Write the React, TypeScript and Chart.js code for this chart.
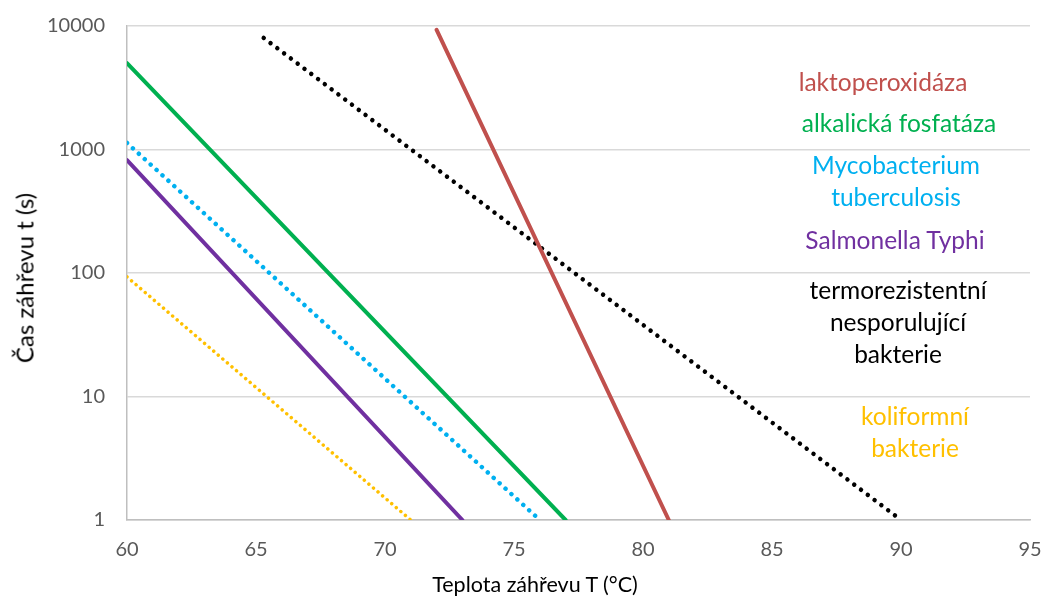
import React, { useEffect, useRef } from "react";
import { Chart, registerables } from "chart.js";

Chart.register(...registerables);

const xTicks = [60, 65, 70, 75, 80, 85, 90, 95];
const yTicks = [1, 10, 100, 1000, 10000];

const seriesNames = [
  "laktoperoxidáza",
  "alkalická fosfatáza",
  "Mycobacterium tuberculosis",
  "Salmonella Typhi",
  "termorezistentní nesporulující bakterie",
  "koliformní bakterie",
];
const seriesColors = ["#C0504D", "#00B050", "#00B0F0", "#7030A0", "#000000", "#FFC000"];

const laktoperoxidazaT = [72, 81];
const laktoperoxidazaTime = [9300, 1];
const fosfatazaT = [60, 77];
const fosfatazaTime = [5000, 1];
const mycobacteriumT = [60, 76];
const mycobacteriumTime = [1130, 1];
const salmonellaT = [60, 73];
const salmonellaTime = [820, 1];
const termorezT = [65.3, 90];
const termorezTime = [8000, 1];
const koliformT = [60, 71];
const koliformTime = [93, 1];

const labelLines = [
  { lines: ["laktoperoxidáza"], cx: 883, cy: 82, color: seriesColors[0] },
  { lines: ["alkalická fosfatáza"], cx: 899, cy: 123, color: seriesColors[1] },
  { lines: ["Mycobacterium", "tuberculosis"], cx: 896, cy: 181, color: seriesColors[2] },
  { lines: ["Salmonella Typhi"], cx: 895, cy: 240, color: seriesColors[3] },
  { lines: ["termorezistentní", "nesporulující", "bakterie"], cx: 898, cy: 322, color: seriesColors[4] },
  { lines: ["koliformní", "bakterie"], cx: 915, cy: 432, color: seriesColors[5] },
];

const pts = (xs: number[], ys: number[]) => xs.map((x, i) => ({ x, y: ys[i] }));

const FONT = "Lato, 'Open Sans', sans-serif";

export default function App() {
  const ref = useRef<HTMLCanvasElement | null>(null);

  useEffect(() => {
    document.body.style.margin = "0";
    const ctx = ref.current!.getContext("2d")!;
    const solid = (label: string, color: string, data: any) => ({
      label,
      data,
      borderColor: color,
      backgroundColor: color,
      borderWidth: 4,
      pointRadius: 0,
      borderCapStyle: "round" as const,
      fill: false,
    });
    const dotted = (label: string, color: string, data: any, w: number, gap: number) => ({
      ...solid(label, color, data),
      borderWidth: w,
      borderDash: [0.01, gap],
    });
    const chart = new Chart(ctx, {
      type: "line",
      data: {
        datasets: [
          solid(seriesNames[0], seriesColors[0], pts(laktoperoxidazaT, laktoperoxidazaTime)),
          solid(seriesNames[1], seriesColors[1], pts(fosfatazaT, fosfatazaTime)),
          dotted(seriesNames[2], seriesColors[2], pts(mycobacteriumT, mycobacteriumTime), 4.5, 8),
          solid(seriesNames[3], seriesColors[3], pts(salmonellaT, salmonellaTime)),
          dotted(seriesNames[4], seriesColors[4], pts(termorezT, termorezTime), 4.5, 8.5),
          dotted(seriesNames[5], seriesColors[5], pts(koliformT, koliformTime), 3.5, 6),
        ],
      },
      options: {
        animation: false,
        responsive: false,
        layout: { padding: { top: 26, right: 15, left: 0, bottom: 0 } },
        plugins: { legend: { display: false }, tooltip: { enabled: false } },
        scales: {
          x: {
            type: "linear",
            min: 60,
            max: 95,
            afterBuildTicks: (s: any) => {
              s.ticks = xTicks.map((v) => ({ value: v }));
            },
            afterFit: (s: any) => {
              s.height = 81;
              s.paddingLeft = 0;
              s.paddingRight = 0;
            },
            grid: { display: false },
            border: { display: true, color: "#BFBFBF", width: 1.5 },
            ticks: {
              color: "#595959",
              font: { family: FONT, size: 20 },
              padding: 10,
              maxRotation: 0,
            },
          },
          y: {
            type: "logarithmic",
            min: 1,
            max: 10000,
            afterBuildTicks: (s: any) => {
              s.ticks = yTicks.map((v) => ({ value: v, major: true }));
            },
            afterFit: (s: any) => {
              s.width = 127;
              s.paddingTop = 0;
              s.paddingBottom = 0;
            },
            grid: { color: "#D9D9D9", lineWidth: 1.5, drawTicks: false },
            border: { display: true, color: "#BFBFBF", width: 1.5 },
            ticks: {
              color: "#595959",
              font: { family: FONT, size: 20 },
              padding: 22,
              callback: (v: any) => String(v),
            },
          },
        },
      },
    });
    return () => chart.destroy();
  }, []);

  return (
    <div style={{ position: "relative", width: 1045, height: 601, fontFamily: FONT }}>
      <canvas ref={ref} width={1045} height={601} style={{ display: "block" }} />
      <div
        style={{
          position: "absolute",
          left: 24,
          top: 278,
          transform: "translate(-50%, -50%) rotate(-90deg)",
          fontSize: 24,
          color: "#000",
          whiteSpace: "nowrap",
        }}
      >
        Čas záhřevu t (s)
      </div>
      <div
        style={{
          position: "absolute",
          left: 535,
          top: 584,
          transform: "translate(-50%, -50%)",
          fontSize: 21.5,
          color: "#000",
          whiteSpace: "nowrap",
        }}
      >
        Teplota záhřevu T (°C)
      </div>
      {labelLines.map((l, i) => (
        <div
          key={i}
          style={{
            position: "absolute",
            left: l.cx,
            top: l.cy,
            transform: "translate(-50%, -50%)",
            fontSize: 24.5,
            lineHeight: "32px",
            color: l.color,
            textAlign: "center",
            whiteSpace: "nowrap",
          }}
        >
          {l.lines.map((t, j) => (
            <div key={j}>{t}</div>
          ))}
        </div>
      ))}
    </div>
  );
}
